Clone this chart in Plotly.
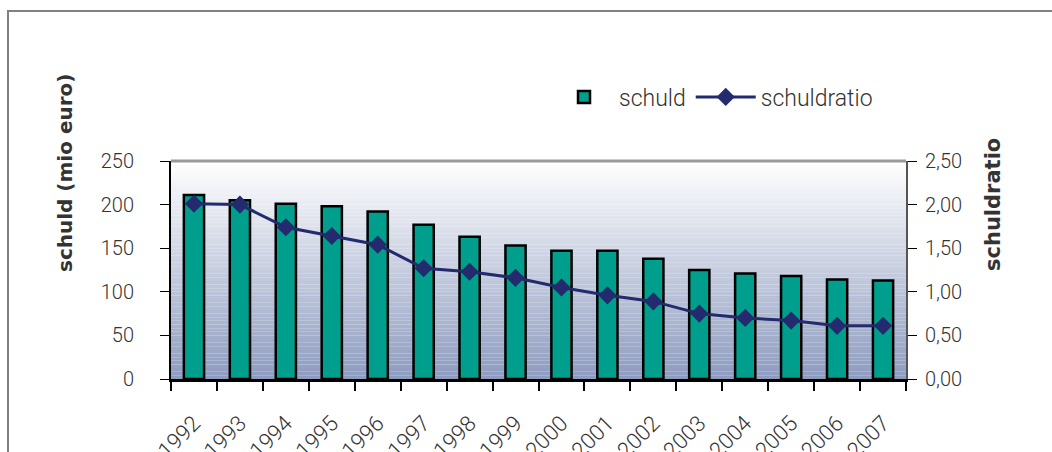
import plotly.graph_objects as go

years = ["1992", "1993", "1994", "1995", "1996", "1997", "1998", "1999",
         "2000", "2001", "2002", "2003", "2004", "2005", "2006", "2007"]
schuld = [211, 205, 201, 198, 192, 177, 163, 153, 147, 147, 138, 125, 121, 118, 114, 113]
schuldratio = [2.01, 2.00, 1.74, 1.64, 1.54, 1.27, 1.23, 1.16, 1.05, 0.96, 0.89, 0.75, 0.70, 0.67, 0.61, 0.61]

FONT = "Roboto"
TXT = "#333333"

fig = go.Figure()
fig.add_trace(go.Bar(
    x=years, y=schuld, name="schuld",
    marker=dict(color="#009e8c", line=dict(color="#000000", width=2.5)),
))
fig.add_trace(go.Scatter(
    x=years, y=schuldratio, name="schuldratio", yaxis="y2",
    mode="lines+markers",
    line=dict(color="#232a6e", width=3),
    marker=dict(symbol="diamond", size=14, color="#232a6e"),
))

# gradient background bands
shapes = []
n = 60
top = (255, 255, 255)
bot = (141, 155, 191)
for i in range(n):
    t = (i + 0.5) / n
    c = tuple(int(round(top[k] + (bot[k] - top[k]) * t)) for k in range(3))
    shapes.append(dict(type="rect", xref="paper", yref="paper",
                       x0=0, x1=1, y0=1 - (i + 1) / n, y1=1 - i / n,
                       fillcolor="rgb(%d,%d,%d)" % c, line=dict(width=0), layer="below"))
# top border of plot area
shapes.append(dict(type="line", xref="paper", yref="paper", x0=0, x1=1, y0=1, y1=1,
                   line=dict(color="#999999", width=3)))
# outer frame
shapes.append(dict(type="rect", xref="paper", yref="paper",
                   x0=(8 - 171) / 735, x1=(1070 - 171) / 735,
                   y0=(379 - 470) / 218, y1=(379 - 11) / 218,
                   line=dict(color="#808080", width=2), fillcolor="rgba(0,0,0,0)"))

annotations = [
    dict(x=(65 - 171) / 735, y=(379 - 173) / 218, xref="paper", yref="paper",
         text="schuld (mio euro)", textangle=-90, showarrow=False,
         xanchor="center", yanchor="middle",
         font=dict(family="DejaVu Sans", size=20, color=TXT, weight="bold")),
    dict(x=(993 - 171) / 735, y=(379 - 205) / 218, xref="paper", yref="paper",
         text="schuldratio", textangle=-90, showarrow=False,
         xanchor="center", yanchor="middle",
         font=dict(family="DejaVu Sans", size=21, color=TXT, weight="bold")),
]

fig.update_layout(
    width=1052, height=452,
    margin=dict(l=171, r=146, t=161, b=73),
    paper_bgcolor="white", plot_bgcolor="white",
    separators=",.",
    bargap=0.56,
    showlegend=True,
    legend=dict(orientation="h", x=(549 - 171) / 735, y=1 + 64 / 218,
                xanchor="left", yanchor="middle", itemwidth=60,
                font=dict(family=FONT, size=23, color=TXT, weight=300),
                bgcolor="rgba(0,0,0,0)"),
    xaxis=dict(type="category", showticklabels=True, tickangle=-45,
               ticks="outside", ticklen=9, ticklabelstandoff=20, automargin=False,
               tickfont=dict(family=FONT, size=22, color=TXT, weight=300),
               tickcolor="#000000", tickwidth=1.5, tickson="boundaries",
               showline=True, linecolor="#000000", linewidth=2.5, showgrid=False,
               range=[-0.5, 15.5], fixedrange=True),
    yaxis=dict(range=[0, 250], dtick=50, ticks="outside", ticklen=9, tickcolor="#000000",
               showline=True, linecolor="#000000", linewidth=2, showgrid=False,
               zeroline=False, ticklabelstandoff=22, automargin=False,
               tickfont=dict(family=FONT, size=20, color=TXT, weight=300)),
    yaxis2=dict(range=[0, 2.5], dtick=0.5, tickformat=".2f", overlaying="y", side="right",
                ticks="outside", ticklen=9, tickcolor="#000000",
                showline=True, linecolor="#555555", linewidth=2, showgrid=False,
                zeroline=False, ticklabelstandoff=4, automargin=False,
                tickfont=dict(family=FONT, size=20, color=TXT, weight=300)),
    shapes=shapes,
    annotations=annotations,
)

fig.write_html("out.html", config={"displayModeBar": False},
               post_script="document.body.style.margin='0px';document.body.style.overflow='hidden';")
